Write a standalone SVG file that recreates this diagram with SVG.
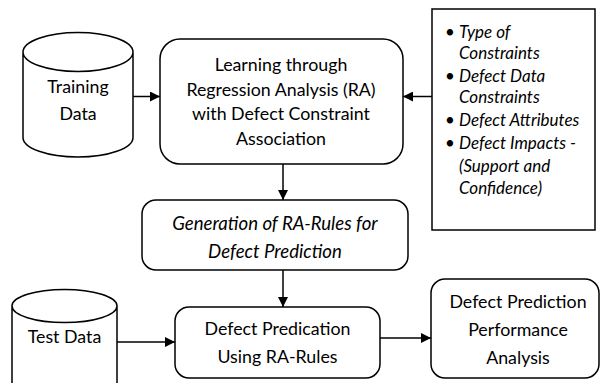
<svg xmlns="http://www.w3.org/2000/svg" width="600" height="383" viewBox="0 0 600 383">
<style>
.s{fill:#fff;stroke:#000;stroke-width:1.5}
.t{font-family:Lato,"Open Sans",sans-serif;font-size:17.8px;fill:#000;text-anchor:middle}
.i{font-style:italic}
.g{font-size:18.6px}
.l{text-anchor:start;font-size:17px}
.c{fill:none;stroke:#000;stroke-width:1.5}
</style>
<defs>
<marker id="a" viewBox="0 0 10 10" refX="10" refY="5" markerWidth="10" markerHeight="10" markerUnits="userSpaceOnUse" orient="auto">
<path d="M0,0 L10,5 L0,10 z" fill="#000"/>
</marker>
</defs>
<rect width="600" height="383" fill="#fff"/>
<g id="connectors">
<line class="c" x1="133" y1="96.5" x2="160" y2="96.5" marker-end="url(#a)"/>
<line class="c" x1="432" y1="96.5" x2="403" y2="96.5" marker-end="url(#a)"/>
<line class="c" x1="283" y1="164" x2="283" y2="200" marker-end="url(#a)"/>
<line class="c" x1="283" y1="270" x2="283" y2="307" marker-end="url(#a)"/>
<line class="c" x1="117" y1="342" x2="175" y2="342" marker-end="url(#a)"/>
<line class="c" x1="380" y1="338" x2="431" y2="338" marker-end="url(#a)"/>
</g>
<g id="training">
<path class="s" d="M23,52 L23,137.5 A55,19.5 0 0 0 133,137.5 L133,52 A55,19.5 0 0 0 23,52 A55,19.5 0 0 0 133,52"/>
<text class="t" x="78" y="93">Training</text>
<text class="t" x="78" y="120">Data</text>
</g>
<g id="learning">
<rect class="s" x="160" y="39" width="243" height="125" rx="20"/>
<text class="t" x="281" y="71">Learning through</text>
<text class="t" x="281" y="95.5">Regression Analysis (RA)</text>
<text class="t" x="281" y="120">with Defect Constraint</text>
<text class="t" x="281" y="144.5">Association</text>
</g>
<g id="constraints">
<rect class="s" x="432" y="9" width="163" height="221"/>
<g class="t l i">
<text x="445" y="37.5">•</text><text x="459" y="37.5">Type of</text>
<text x="459" y="58.5">Constraints</text>
<text x="445" y="81.5">•</text><text x="459" y="81.5">Defect Data</text>
<text x="459" y="102.5">Constraints</text>
<text x="445" y="125.5">•</text><text x="459" y="125.5">Defect Attributes</text>
<text x="445" y="148.5">•</text><text x="459" y="148.5">Defect Impacts -</text>
<text x="459" y="171.5">(Support and</text>
<text x="459" y="193.5">Confidence)</text>
</g>
</g>
<g id="generation">
<rect class="s" x="142" y="200" width="266" height="70" rx="14"/>
<text class="t i g" x="275" y="230">Generation of RA-Rules for</text>
<text class="t i g" x="275" y="258">Defect Prediction</text>
</g>
<g id="testdata">
<path class="s" d="M12,306 L12,400 L117,400 L117,306 A52.5,16.5 0 0 0 12,306 A52.5,16.5 0 0 0 117,306"/>
<text class="t" x="64.5" y="343">Test Data</text>
</g>
<g id="predication">
<rect class="s" x="175" y="307" width="205" height="71" rx="14"/>
<text class="t" x="277.5" y="335">Defect Predication</text>
<text class="t" x="277.5" y="363">Using RA-Rules</text>
</g>
<g id="performance">
<rect class="s" x="431" y="279" width="168" height="99" rx="14"/>
<text class="t" x="518" y="308">Defect Prediction</text>
<text class="t" x="518" y="336">Performance</text>
<text class="t" x="518" y="364">Analysis</text>
</g>
</svg>
